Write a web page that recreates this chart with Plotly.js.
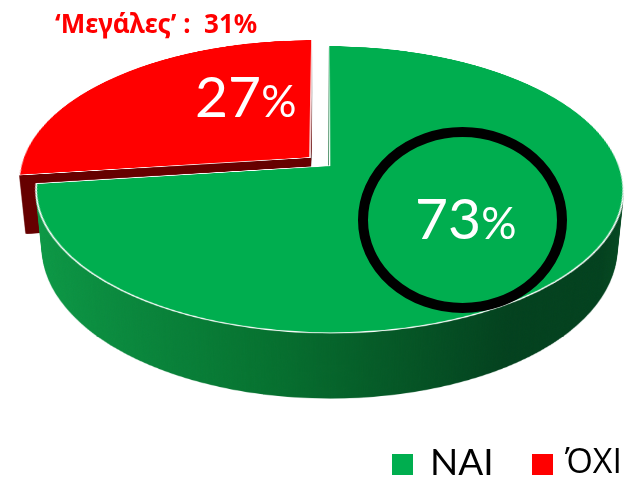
<!DOCTYPE html>
<html>
<head>
<meta charset="utf-8">
<script src="https://cdn.plot.ly/plotly-3.0.1.min.js"></script>
<style>
html,body{margin:0;padding:0;background:#fff;width:635px;height:482px;overflow:hidden}
#stage{position:relative;width:635px;height:482px;overflow:hidden}
#pie,#over{position:absolute}
#over{left:0;top:0;width:635px;height:482px;z-index:5}
.layer{position:absolute;overflow:visible}
</style>
</head>
<body>
<div id="stage"><div id="pie"></div><div id="over"></div></div>
<script>
const categories = ['ΝΑΙ', 'ΌΧΙ'];
const values = [73, 27];
const pulls = [0.03, 0.06];
const colors = ['#00AE4F', '#FF0000'];
const note = '‘Μεγάλες’ :  31%';

const SIZE = 612, CX = 323, CY = 162.5, TILT = 61.3, PERSP = 1540, DEPTH = 68;
const stage = document.getElementById('stage');
const pie = document.getElementById('pie');
pie.style.cssText += `left:${CX - SIZE/2}px;top:${CY - SIZE/2}px;width:${SIZE}px;height:${SIZE}px;`;
const tf = z => `perspective(${PERSP}px) rotateX(${TILT}deg) translateZ(${z}px)`;

const pieTrace = {
  type: 'pie', labels: categories, values: values, pull: pulls, sort: false,
  direction: 'clockwise', rotation: 0, textinfo: 'none', hoverinfo: 'skip',
  marker: {colors: colors, line: {color: '#ffffff', width: 1.6}},
  domain: {x: [0, 1], y: [0, 1]}
};
Plotly.newPlot(pie, [pieTrace], {
  width: SIZE, height: SIZE, margin: {l: 0, r: 0, t: 0, b: 0},
  showlegend: false, paper_bgcolor: 'rgba(0,0,0,0)'
}, {displayModeBar: false, staticPlot: true}).then(() => {
  const src = pie.querySelector('svg.main-svg');
  const NS = 'http://www.w3.org/2000/svg';
  const layers = document.createDocumentFragment();
  for (let i = DEPTH; i >= 1; i--) {
    const c = src.cloneNode(true);
    c.classList.add('layer');
    c.style.cssText = `position:absolute;left:${CX - SIZE/2}px;top:${CY - SIZE/2}px;width:${SIZE}px;height:${SIZE}px;transform:${tf(-i)};background:none`;
    if (i === DEPTH) {
      const d = document.createElementNS(NS, 'defs');
      d.innerHTML = `<linearGradient id="gside" gradientUnits="userSpaceOnUse" x1="0" y1="0" x2="${SIZE}" y2="0">
        <stop offset="0.02" stop-color="#0c9c47"/><stop offset="0.2" stop-color="#0a8a3e"/>
        <stop offset="0.42" stop-color="#067230"/><stop offset="0.58" stop-color="#055a27"/>
        <stop offset="0.76" stop-color="#03411e"/><stop offset="0.92" stop-color="#03411e"/>
        <stop offset="1" stop-color="#064d22"/></linearGradient>`;
      c.insertBefore(d, c.firstChild);
    }
    c.querySelectorAll('path.surface').forEach((p, k) => {
      p.style.fill = k === 0 ? 'url(#gside)' : '#660000';
      p.style.stroke = 'none';
      p.style.strokeWidth = 0;
    });
    layers.appendChild(c);
  }
  stage.insertBefore(layers, pie);
  pie.style.transform = tf(0);
  pie.style.zIndex = 2;
});

const big = 57, small = 44, face = 'Lato, Noto Sans, sans-serif';
const pct = (v) => `${v}<span style="font-size:${small}px">%</span>`;
const over = {
  xaxis: {range: [0, 635], visible: false, fixedrange: true},
  yaxis: {range: [482, 0], visible: false, fixedrange: true},
  width: 635, height: 482, margin: {l: 0, r: 0, t: 0, b: 0},
  paper_bgcolor: 'rgba(0,0,0,0)', plot_bgcolor: 'rgba(0,0,0,0)', showlegend: false,
  shapes: [
    {type: 'circle', xref: 'x', yref: 'y', x0: 363, x1: 562, y0: 132, y1: 308, line: {color: '#000', width: 10}, fillcolor: 'rgba(0,0,0,0)'},
    {type: 'rect', xref: 'x', yref: 'y', x0: 392, x1: 413, y0: 454, y1: 475, line: {width: 0}, fillcolor: colors[0]},
    {type: 'rect', xref: 'x', yref: 'y', x0: 532, x1: 553, y0: 454, y1: 475, line: {width: 0}, fillcolor: colors[1]}
  ],
  annotations: [
    {x: 245, y: 94.5, text: pct(values[1]), font: {family: face, size: big, color: '#fff'}},
    {x: 465, y: 217, text: pct(values[0]), font: {family: face, size: big, color: '#fff'}},
    {x: 156, y: 23, text: '<b>' + note + '</b>', font: {family: 'Noto Sans, sans-serif', size: 26, color: '#FF0000'}},
    {x: 428, y: 460, xanchor: 'left', text: categories[0], font: {family: face, size: 37, color: '#000'}},
    {x: 562, y: 460, xanchor: 'left', text: categories[1], font: {family: 'Open Sans, Noto Sans, sans-serif', size: 34, color: '#000'}}
  ].map(a => Object.assign({xref: 'x', yref: 'y', showarrow: false}, a))
};
Plotly.newPlot('over', [{type: 'scatter', x: [], y: [], hoverinfo: 'skip'}], over, {displayModeBar: false, staticPlot: true});
</script>
</body>
</html>
